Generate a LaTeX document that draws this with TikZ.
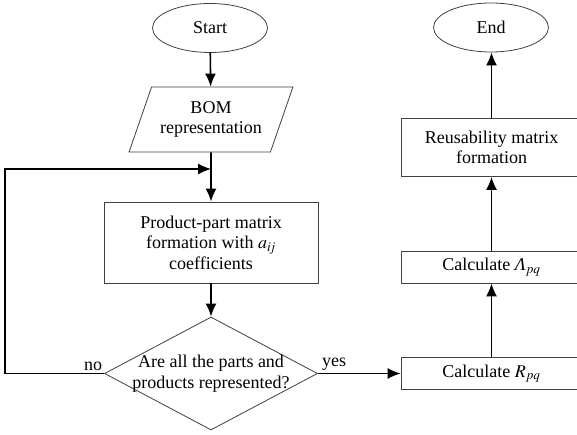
\documentclass[tikz,border=0pt]{standalone}
\usepackage{mathptmx}
\usepackage{fontspec}
\setmainfont{Liberation Serif}
\usetikzlibrary{shapes.geometric,arrows.meta}

\begin{document}
\begin{tikzpicture}
		[
		x=1pt, y=1pt, font=\fontsize{18}{20.5}\selectfont, >={Latex[length=13pt,width=11pt]},
		%Voreinstellungen fuer Kaesten und Pfeile
		box/.style={draw=black!75, line width=0.8pt, rectangle, align=center, inner sep=0pt},
		terminal/.style={draw=black!75, line width=0.8pt, ellipse, minimum width=115pt, minimum height=49pt, inner sep=0pt},
		flow/.style={->, line width=1.6pt}
		]
		
		%Rahmen
		\useasboundingbox (0,0) rectangle (577,434);
		\clip (0,0) rectangle (577,434);
		
		%linke Spalte
		\node[terminal] (start) at (210,406) {Start};
		\node[draw=black!75, line width=0.8pt, trapezium, trapezium left angle=62, trapezium right angle=118,
			trapezium stretches=true, minimum width=164pt, minimum height=65pt, align=center, inner sep=0pt]
			(bom) at (211,314.5) {BOM\\representation};
		\node[box, minimum width=214pt, minimum height=81pt] (matrix) at (211,191.5)
			{Product-part matrix\\formation with $a_{i\!j}$\\coefficients};
		\node[draw=black!75, line width=0.8pt, diamond, minimum width=213pt, minimum height=113pt,
			inner sep=0pt] (check) at (211,60.5) {};
		\node[align=center] (checktext) at (check.center) {Are all the parts and\\products represented?};
		
		%rechte Spalte
		\node[box, minimum width=181pt, minimum height=32pt] (rpq) at (491.5,60.5) {Calculate $R_{pq}$};
		\node[box, minimum width=181pt, minimum height=32pt] (lpq) at (491.5,167) {Calculate $\textit{Λ}_{pq}$};
		\node[box, minimum width=181pt, minimum height=58pt] (reuse) at (491.5,286.5) {Reusability matrix\\formation};
		\node[terminal] (end) at (491,406.5) {End};
		
		%Ruecksprung
		\coordinate (back) at (5,265);
		\coordinate (join) at (211,265);
		
		%Pfeile
		\draw[flow] (start) -- (bom);
		\draw[flow] (bom) -- (matrix);
		\draw[flow] (matrix) -- (check);
		\draw[->, line width=1.2pt] (check.west) -| (back) -- (join);
		\draw[->, line width=1.4pt] (check.east) -- (rpq.west);
		\draw[flow] (rpq) -- (lpq);
		\draw[flow] (lpq) -- (reuse);
		\draw[flow] (reuse) -- (end.south -| reuse.north);
		
		\node (no) at (93,68) {no};
		\node (yes) at (334,70) {yes};
		
	\end{tikzpicture}
\end{document}
